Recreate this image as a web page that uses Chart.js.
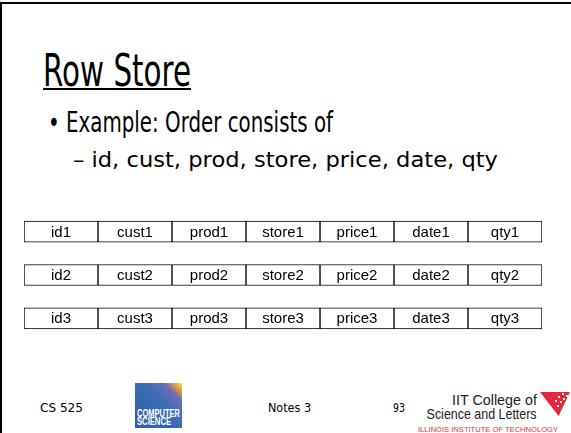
<!DOCTYPE html>
<html>
<head>
<meta charset="utf-8">
<script src="https://cdn.jsdelivr.net/npm/chart.js@4.4.1/dist/chart.umd.min.js"></script>
<style>
  html, body { margin: 0; padding: 0; background: #fff; }
  #slide { position: relative; width: 571px; height: 433px; overflow: hidden; background: #fff;
           font-family: "DejaVu Sans", sans-serif; color: #000; }
  .t { position: absolute; white-space: nowrap; line-height: 1; transform-origin: 0 0; }
  .r { transform-origin: 100% 0; }
  #frameTop { position: absolute; left: 0; top: 2px; width: 571px; height: 2px; background: #000; }
  #frameLeft { position: absolute; left: 0; top: 2px; width: 2px; height: 431px; background: #000; }
  #uline { position: absolute; left: 43px; top: 88px; width: 148px; height: 2px; background: #000; }
  #chartBox { position: absolute; left: 24px; top: 210px; width: 518px; height: 130px; }
  #csLogo { position: absolute; left: 135px; top: 383px; width: 47px; height: 45px; overflow: hidden;
            background: linear-gradient(225deg, #fde25a 0%, #f29a3c 9%, #6c6fb0 20%, #3f6cb7 40%, #2c5fa9 100%); }
  .cs { color: #fff; font-family: "Liberation Sans Narrow", "Liberation Sans", sans-serif; font-weight: bold; }
  .iit { font-family: "Liberation Sans", sans-serif; color: #222; }
  #tri { position: absolute; left: 540px; top: 392px; width: 30px; height: 24px; background: #e3263a;
         clip-path: polygon(0 0, 100% 0, 62% 100%); }
  #tri i { position: absolute; width: 2px; height: 2px; background: #fff; }
</style>
</head>
<body>
<div id="slide">
  <div id="frameTop"></div>
  <div id="frameLeft"></div>
  <div class="t" data-w="148" style="left:43px; top:49px; font-size:44px">Row Store</div>
  <div id="uline"></div>
  <div class="t" data-w="285" style="left:48px; top:109px; font-size:28px">• Example: Order consists of</div>
  <div class="t" data-w="425" style="left:73px; top:150px; font-size:21px">– id, cust, prod, store, price, date, qty</div>
  <div id="chartBox"><canvas id="rowChart"></canvas></div>
  <div class="t" data-w="43" style="left:40px; top:401px; font-size:13px">CS 525</div>
  <div id="csLogo">
    <div class="t cs" data-w="43" style="left:2px; top:26px; font-size:10px">COMPUTER</div>
    <div class="t cs" data-w="34" style="left:2px; top:34px; font-size:10px">SCIENCE</div>
  </div>
  <div class="t" data-w="43" style="left:268px; top:401px; font-size:13px">Notes 3</div>
  <div class="t" data-w="12" style="left:393px; top:401px; font-size:13px">93</div>
  <div class="t r iit" data-w="85" style="right:34px; top:392px; font-size:15px">IIT College of</div>
  <div class="t r iit" data-w="110" style="right:34px; top:406px; font-size:15px">Science and Letters</div>
  <div class="t iit" data-w="140" style="left:418px; top:426px; font-size:7px; color:#e0353a">ILLINOIS INSTITUTE OF TECHNOLOGY</div>
  <div id="tri"><i style="left:22px;top:1px"></i><i style="left:26px;top:3px"></i><i style="left:18px;top:4px"></i>
    <i style="left:23px;top:6px"></i><i style="left:15px;top:8px"></i><i style="left:20px;top:9px"></i><i style="left:17px;top:13px"></i></div>
</div>
<script>
// Records (rows) and the fields stored side by side in each record
const rowIds = ['1', '2', '3'];
const fields = ['id', 'cust', 'prod', 'store', 'price', 'date', 'qty'];
// Width of each field cell, in cell units
const cellWidth = [1, 1, 1, 1, 1, 1, 1];

// squeeze / stretch slide texts to the widths they have on the slide
document.querySelectorAll('[data-w]').forEach(el => {
    const w = el.getBoundingClientRect().width;
    el.style.transform = `scaleX(${+el.dataset.w / w})`;
});

// Writes the field name + row number in the middle of every cell
const cellLabels = {
    id: 'cellLabels',
    afterDatasetsDraw(chart) {
        const ctx = chart.ctx;
        ctx.save();
        ctx.fillStyle = '#000';
        ctx.font = '15px "Liberation Sans", Arial, sans-serif';
        ctx.textAlign = 'center';
        ctx.textBaseline = 'middle';
        chart.data.datasets.forEach((ds, i) => {
            chart.getDatasetMeta(i).data.forEach((bar, j) => {
                const p = bar.getCenterPoint();
                ctx.fillText(ds.label + rowIds[j], p.x, p.y + 1);
            });
        });
        ctx.restore();
    }
};

new Chart('rowChart', {
    type: 'bar',
    data: {
        labels: rowIds,
        datasets: fields.map((f, i) => ({
            label: f,
            data: rowIds.map(() => cellWidth[i]),
            backgroundColor: '#fff',
            borderColor: '#000',
            borderWidth: 1,
            borderSkipped: false,
            barThickness: 21
        }))
    },
    options: {
        indexAxis: 'y',
        animation: false,
        maintainAspectRatio: false,
        responsive: true,
        layout: { padding: 0 },
        plugins: { legend: { display: false }, tooltip: { enabled: false } },
        scales: {
            x: { stacked: true, min: 0, max: fields.length, display: false },
            y: { stacked: true, display: false }
        }
    },
    plugins: [cellLabels]
});
</script>
</body>
</html>
